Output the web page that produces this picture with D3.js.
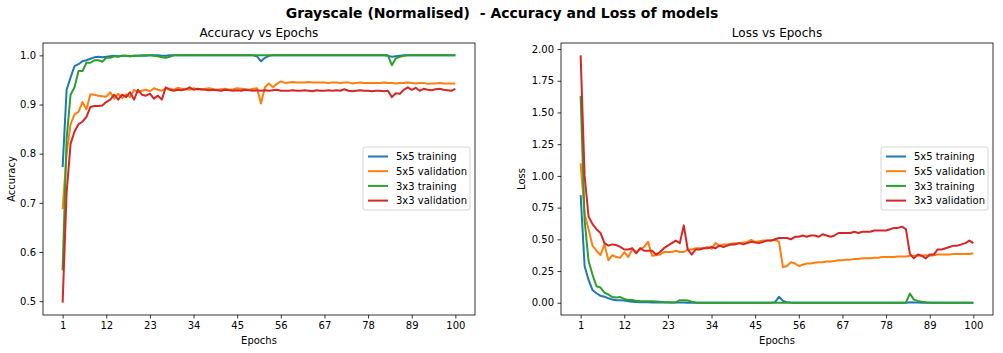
<!DOCTYPE html>
<html><head><meta charset="utf-8">
<script src="https://cdn.jsdelivr.net/npm/d3@7"></script>
<style>
body{margin:0;background:#fff;}
text{font-family:"DejaVu Sans",sans-serif;fill:#000;}
</style></head>
<body><svg id="c" width="1003" height="353"></svg>
<script>
const epochs = d3.range(1, 101);
const xTicks = [1,12,23,34,45,56,67,78,89,100];
const accTicks = [0.5,0.6,0.7,0.8,0.9,1.0];
const lossTicks = [0,0.25,0.5,0.75,1.0,1.25,1.5,1.75,2.0];
const seriesNames = ["5x5 training","5x5 validation","3x3 training","3x3 validation"];
const colors = ["#1f77b4","#ff7f0e","#2ca02c","#d62728"];

const acc5Train = [0.773,0.93,0.955,0.978,0.982,0.988,0.99,0.993,0.996,0.997,0.996,0.997,0.998,0.999,0.998,0.999,0.999,0.998,0.999,0.999,
  0.999,0.999,1.0,1.0,1.0,0.999,0.999,1.0,1.0,1.0,1.0,1.0,1.0,1.0,1.0,1.0,1.0,1.0,1.0,1.0,
  1.0,1.0,1.0,1.0,1.0,1.0,1.0,1.0,1.0,0.998,0.988,0.995,0.999,1.0,1.0,1.0,1.0,1.0,1.0,1.0,
  1.0,1.0,1.0,1.0,1.0,1.0,1.0,1.0,1.0,1.0,1.0,1.0,1.0,1.0,1.0,1.0,1.0,1.0,1.0,1.0,
  1.0,1.0,0.999,0.997,0.998,0.999,1.0,1.0,1.0,1.0,1.0,1.0,1.0,1.0,1.0,1.0,1.0,1.0,1.0,1.0];
const acc5Val = [0.687,0.80,0.86,0.88,0.885,0.905,0.89,0.921,0.92,0.918,0.917,0.916,0.925,0.912,0.922,0.913,0.921,0.915,0.93,0.925,
  0.928,0.93,0.927,0.933,0.93,0.928,0.933,0.932,0.93,0.934,0.932,0.931,0.93,0.933,0.931,0.93,0.932,0.933,0.931,0.93,
  0.931,0.932,0.93,0.931,0.933,0.932,0.931,0.93,0.932,0.933,0.902,0.935,0.943,0.935,0.942,0.947,0.944,0.945,0.946,0.945,
  0.945,0.945,0.946,0.945,0.945,0.945,0.945,0.944,0.945,0.945,0.944,0.945,0.945,0.943,0.944,0.945,0.944,0.944,0.944,0.944,
  0.944,0.945,0.944,0.944,0.943,0.944,0.944,0.945,0.944,0.943,0.944,0.944,0.942,0.943,0.943,0.944,0.943,0.943,0.943,0.943];
const acc3Train = [0.563,0.83,0.92,0.935,0.968,0.968,0.985,0.985,0.99,0.99,0.987,0.995,0.995,0.998,0.997,0.999,0.999,0.998,0.999,0.999,
  1.0,1.0,1.0,0.999,0.998,0.996,0.995,0.997,1.0,1.0,1.0,1.0,1.0,1.0,1.0,1.0,1.0,1.0,1.0,1.0,
  1.0,1.0,1.0,1.0,1.0,1.0,1.0,1.0,1.0,1.0,1.0,1.0,1.0,1.0,1.0,1.0,1.0,1.0,1.0,1.0,
  1.0,1.0,1.0,1.0,1.0,1.0,1.0,1.0,1.0,1.0,1.0,1.0,1.0,1.0,1.0,1.0,1.0,1.0,1.0,1.0,
  1.0,1.0,1.0,0.98,0.994,0.997,0.999,1.0,1.0,1.0,1.0,1.0,1.0,1.0,1.0,1.0,1.0,1.0,1.0,1.0];
const acc3Val = [0.497,0.72,0.82,0.845,0.86,0.865,0.875,0.895,0.897,0.897,0.898,0.905,0.91,0.92,0.91,0.92,0.915,0.925,0.91,0.93,
  0.92,0.918,0.922,0.912,0.918,0.91,0.935,0.93,0.928,0.93,0.929,0.931,0.935,0.93,0.932,0.931,0.93,0.929,0.93,0.929,
  0.928,0.93,0.929,0.928,0.929,0.928,0.93,0.929,0.928,0.929,0.928,0.929,0.928,0.929,0.93,0.928,0.928,0.928,0.929,0.928,
  0.928,0.929,0.928,0.927,0.929,0.928,0.928,0.929,0.928,0.929,0.928,0.931,0.928,0.927,0.928,0.929,0.928,0.928,0.927,0.928,
  0.928,0.927,0.928,0.915,0.923,0.922,0.93,0.935,0.93,0.934,0.928,0.932,0.93,0.929,0.931,0.932,0.93,0.929,0.928,0.932];

const loss5Train = [0.848,0.29,0.18,0.10,0.075,0.055,0.048,0.035,0.025,0.02,0.02,0.018,0.012,0.008,0.006,0.005,0.004,0.004,0.003,0.003,
  0.003,0.002,0.002,0.002,0.002,0.002,0.002,0.001,0.001,0.001,0.001,0.001,0.001,0.001,0.001,0.001,0.001,0.001,0.001,0.001,
  0.001,0.001,0.001,0.001,0.001,0.001,0.001,0.001,0.001,0.005,0.047,0.015,0.005,0.002,0.001,0.001,0.001,0.001,0.001,0.001,
  0.001,0.001,0.001,0.001,0.001,0.001,0.001,0.001,0.001,0.001,0.001,0.001,0.001,0.001,0.001,0.001,0.001,0.001,0.001,0.001,
  0.001,0.001,0.001,0.004,0.003,0.002,0.001,0.001,0.001,0.001,0.001,0.001,0.001,0.001,0.001,0.001,0.001,0.001,0.001,0.001];
const loss5Val = [1.10,0.70,0.58,0.45,0.41,0.375,0.46,0.335,0.375,0.36,0.355,0.40,0.36,0.42,0.40,0.42,0.44,0.48,0.37,0.375,
  0.38,0.40,0.40,0.40,0.41,0.40,0.40,0.42,0.42,0.43,0.43,0.43,0.44,0.425,0.47,0.45,0.46,0.46,0.465,0.47,
  0.47,0.475,0.48,0.495,0.48,0.485,0.49,0.49,0.49,0.495,0.48,0.28,0.29,0.32,0.31,0.29,0.30,0.31,0.31,0.315,
  0.32,0.32,0.325,0.325,0.33,0.335,0.336,0.34,0.34,0.345,0.345,0.35,0.35,0.35,0.355,0.355,0.36,0.36,0.36,0.36,
  0.365,0.365,0.365,0.37,0.37,0.37,0.372,0.375,0.37,0.375,0.38,0.38,0.38,0.38,0.385,0.385,0.385,0.385,0.385,0.39];
const loss3Train = [1.63,0.65,0.33,0.22,0.13,0.12,0.08,0.065,0.045,0.042,0.045,0.03,0.022,0.022,0.015,0.013,0.012,0.012,0.012,0.01,
  0.008,0.005,0.004,0.003,0.003,0.02,0.02,0.018,0.008,0.002,0.001,0.001,0.001,0.001,0.001,0.001,0.001,0.001,0.001,0.001,
  0.001,0.001,0.001,0.001,0.001,0.001,0.001,0.001,0.001,0.001,0.001,0.001,0.001,0.001,0.001,0.001,0.001,0.001,0.001,0.001,
  0.001,0.001,0.001,0.001,0.001,0.001,0.001,0.001,0.001,0.001,0.001,0.001,0.001,0.001,0.001,0.001,0.001,0.001,0.001,0.001,
  0.001,0.001,0.001,0.073,0.025,0.015,0.008,0.004,0.002,0.001,0.001,0.001,0.001,0.001,0.001,0.001,0.001,0.001,0.001,0.001];
const loss3Val = [1.95,1.0,0.68,0.62,0.58,0.55,0.47,0.45,0.46,0.455,0.44,0.42,0.42,0.43,0.39,0.43,0.41,0.41,0.41,0.38,
  0.40,0.43,0.45,0.47,0.49,0.47,0.61,0.42,0.38,0.42,0.42,0.43,0.43,0.44,0.43,0.45,0.44,0.45,0.46,0.46,
  0.47,0.46,0.47,0.48,0.475,0.47,0.48,0.49,0.49,0.50,0.51,0.51,0.51,0.50,0.52,0.52,0.53,0.52,0.53,0.53,
  0.52,0.54,0.53,0.52,0.53,0.55,0.55,0.55,0.55,0.56,0.55,0.56,0.56,0.56,0.57,0.57,0.57,0.57,0.58,0.59,
  0.59,0.60,0.58,0.385,0.35,0.38,0.37,0.35,0.38,0.38,0.42,0.42,0.43,0.44,0.45,0.45,0.46,0.47,0.49,0.47];

const accSeries = [acc5Train, acc5Val, acc3Train, acc3Val];
const lossSeries = [loss5Train, loss5Val, loss3Train, loss3Val];

const svg = d3.select("#c");
svg.append("text").attr("x", 502).attr("y", 18).attr("text-anchor","middle")
  .style("font-size","14px").style("font-weight","bold").style("white-space","pre")
  .attr("xml:space","preserve")
  .text("Grayscale (Normalised)  - Accuracy and Loss of models");

function pad(ext){ const s = ext[1]-ext[0]; return [ext[0]-0.05*s, ext[1]+0.05*s]; }

function panel(cfg){
  const {left, top, width, height, series, yTicks, yFmt, title, ylabel, legendX, ylabelX} = cfg;
  const g = svg.append("g");
  const x = d3.scaleLinear().domain(pad([1,100])).range([left, left+width]);
  const all = series.flat();
  const y = d3.scaleLinear().domain(pad(d3.extent(all))).range([top+height, top]);

  const clip = "clip"+left;
  svg.append("clipPath").attr("id", clip).append("rect")
    .attr("x", left).attr("y", top).attr("width", width).attr("height", height);

  const line = d3.line().x((d,i)=>x(epochs[i])).y(d=>y(d));
  series.forEach((s,k)=>{
    g.append("path").attr("d", line(s)).attr("fill","none")
      .attr("stroke", colors[k]).attr("stroke-width", 2)
      .attr("stroke-linejoin","round").attr("clip-path","url(#"+clip+")");
  });

  const xa = g.append("g").attr("transform",`translate(0,${top+height})`)
    .call(d3.axisBottom(x).tickValues(xTicks).tickSize(3.5).tickPadding(3.5));
  const ya = g.append("g").attr("transform",`translate(${left},0)`)
    .call(d3.axisLeft(y).tickValues(yTicks).tickFormat(yFmt).tickSize(3.5).tickPadding(3.5));
  [xa, ya].forEach(a=>{
    a.select(".domain").remove();
    a.selectAll("text").style("font-size","10px").style("font-family","DejaVu Sans, sans-serif");
    a.selectAll("line").attr("stroke","#000").attr("stroke-width",0.8);
  });
  g.append("rect").attr("x",left).attr("y",top).attr("width",width).attr("height",height)
    .attr("fill","none").attr("stroke","#000").attr("stroke-width",0.8);

  g.append("text").attr("x", left+width/2).attr("y", top-6).attr("text-anchor","middle")
    .style("font-size","12px").text(title);
  g.append("text").attr("x", left+width/2).attr("y", 344).attr("text-anchor","middle")
    .style("font-size","10px").text("Epochs");
  g.append("text").attr("transform",`translate(${ylabelX},${top+height/2}) rotate(-90)`)
    .attr("text-anchor","middle").style("font-size","10px").text(ylabel);

  // legend
  const lg = g.append("g").attr("transform",`translate(${legendX},147)`);
  lg.append("rect").attr("x",0).attr("y",0).attr("width",107).attr("height",63).attr("rx",2)
    .attr("fill","#fff").attr("fill-opacity",0.8).attr("stroke","#ccc").attr("stroke-width",0.8);
  seriesNames.forEach((n,k)=>{
    const yy = 9.5 + k*14.7;
    lg.append("line").attr("x1",5).attr("x2",25).attr("y1",yy).attr("y2",yy)
      .attr("stroke",colors[k]).attr("stroke-width",2);
    lg.append("text").attr("x",33).attr("y",yy+3.6).style("font-size","10px").text(n);
  });
}

panel({left:43, top:43, width:432, height:272, series:accSeries, yTicks:accTicks,
  yFmt:d3.format(".1f"), title:"Accuracy vs Epochs", ylabel:"Accuracy", legendX:363, ylabelX:15});
panel({left:561, top:43, width:432, height:272, series:lossSeries, yTicks:lossTicks,
  yFmt:d3.format(".2f"), title:"Loss vs Epochs", ylabel:"Loss", legendX:881, ylabelX:525});
</script></body></html>
